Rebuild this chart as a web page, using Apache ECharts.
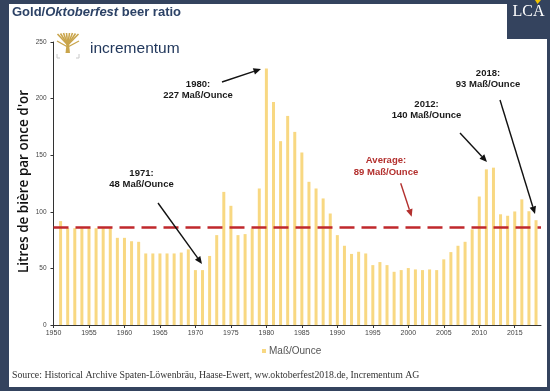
<!DOCTYPE html>
<html>
<head>
<meta charset="utf-8">
<script src="https://cdn.jsdelivr.net/npm/echarts@6/dist/echarts.min.js"></script>
<style>
html,body{margin:0;padding:0;background:#fff;}
#wrap{position:relative;width:550px;height:391px;background:#34435e;overflow:hidden;}
#inner{position:absolute;left:9px;top:4px;width:538px;height:383px;background:#fff;}
#chart{position:absolute;left:0;top:0;width:550px;height:391px;}
</style>
</head>
<body>
<div id="wrap"><div id="inner"></div><div id="chart"></div></div>
<script>
// ---- data ----
const years = [1951,1952,1953,1954,1955,1956,1957,1958,1959,1960,
  1961,1962,1963,1964,1965,1966,1967,1968,1969,1970,
  1971,1972,1973,1974,1975,1976,1977,1978,1979,1980,
  1981,1982,1983,1984,1985,1986,1987,1988,1989,1990,
  1991,1992,1993,1994,1995,1996,1997,1998,1999,2000,
  2001,2002,2003,2004,2005,2006,2007,2008,2009,2010,
  2011,2012,2013,2014,2015,2016,2017,2018];
const ratio = [91.8,85.5,85.5,85.5,85.5,85.5,85.5,85.5,77,77,
  74,73.5,63.2,63.2,63.2,63.2,63.2,64,66.8,48.5,
  48.5,61,79.4,117.6,105.3,79.4,80.3,85.3,120.6,226.5,
  197,162.4,184.7,170.6,152.4,126.5,120.6,111.8,98.5,79.4,
  70,62.8,64.7,63.2,52.9,55.6,52.9,47,48.5,50.3,
  49.1,48.5,49.1,48.5,58,64.4,70,73.5,84.5,113.5,
  137.5,139,97.8,96.5,100.3,111,100.5,92.6];
const averageLine = 86.2;
const seriesName = 'Maß/Ounce';
const yTicks = [0,50,100,150,200,250];
const xTickStart = 1950, xTickStep = 5;

const chart = echarts.init(document.getElementById('chart'), null, {renderer:'canvas'});

function arrow(x1,y1,x2,y2,color){
  const a = Math.atan2(y2-y1,x2-x1), L = 7.5, W = 3.3;
  const bx = x2 - L*Math.cos(a), by = y2 - L*Math.sin(a);
  const px = -Math.sin(a)*W, py = Math.cos(a)*W;
  return [
    {type:'line', shape:{x1:x1,y1:y1,x2:bx,y2:by}, style:{stroke:color,lineWidth:1.4}, z:50},
    {type:'polygon', shape:{points:[[x2,y2],[bx+px,by+py],[bx-px,by-py]]}, style:{fill:color}, z:50}
  ];
}
function note(x,y,text,color){
  return {type:'text', x:x, y:y, z:50, style:{text:text, fill:color||'#1a1a1a', fontSize:9.5, fontWeight:'bold',
    fontFamily:'"Liberation Sans", Arial, sans-serif', align:'center', verticalAlign:'middle', lineHeight:11.5}};
}

const gold = '#c9a54c';
const tree = [
  {type:'polygon', shape:{points:[[65.5,53],[66.5,44],[69,44],[70,53]]}, style:{fill:gold}},
  {type:'polyline', shape:{points:[[67.8,45],[57.5,34]]}, style:{stroke:gold,lineWidth:1.6}},
  {type:'polyline', shape:{points:[[67.8,45],[60.5,33.5]]}, style:{stroke:gold,lineWidth:1.6}},
  {type:'polyline', shape:{points:[[67.8,45],[63.5,33]]}, style:{stroke:gold,lineWidth:1.6}},
  {type:'polyline', shape:{points:[[67.8,45],[66.5,33]]}, style:{stroke:gold,lineWidth:1.6}},
  {type:'polyline', shape:{points:[[67.8,45],[69.5,33]]}, style:{stroke:gold,lineWidth:1.6}},
  {type:'polyline', shape:{points:[[67.8,45],[72.5,33]]}, style:{stroke:gold,lineWidth:1.6}},
  {type:'polyline', shape:{points:[[67.8,45],[75.5,33.5]]}, style:{stroke:gold,lineWidth:1.6}},
  {type:'polyline', shape:{points:[[67.8,45],[78.5,34]]}, style:{stroke:gold,lineWidth:1.6}},
  {type:'polyline', shape:{points:[[67.8,47],[57,41]]}, style:{stroke:gold,lineWidth:1.4}},
  {type:'polyline', shape:{points:[[67.8,47],[79,41]]}, style:{stroke:gold,lineWidth:1.4}},
  {type:'polyline', shape:{points:[[57,54],[57,58],[60,58]]}, style:{stroke:'#c8c8c8',lineWidth:1,fill:null}},
  {type:'polyline', shape:{points:[[79,54],[79,58],[76,58]]}, style:{stroke:'#c8c8c8',lineWidth:1,fill:null}}
];

const graphics = [].concat(
  [
    {type:'text', x:12, y:12, style:{text:'{a|Gold/}{b|Oktoberfest}{a| beer ratio}', verticalAlign:'middle',
      rich:{a:{fontSize:13,fontWeight:'bold',fill:'#2c4266',fontFamily:'"Liberation Sans", Arial, sans-serif'},
            b:{fontSize:13,fontWeight:'bold',fontStyle:'italic',fill:'#2c4266',fontFamily:'"Liberation Sans", Arial, sans-serif'}}}},
    {type:'rect', shape:{x:507,y:0,width:43,height:39}, style:{fill:'#34435e'}, z:60},
    {type:'text', x:528.5, y:12, z:61, style:{text:'LCA', fill:'#ffffff', fontSize:16, fontFamily:'"Liberation Serif", "DejaVu Serif", serif', align:'center', verticalAlign:'middle'}},
    {type:'polygon', z:62, shape:{points:[[535,0],[541,0],[537.5,4]]}, style:{fill:'#f2c400'}},
    {type:'text', x:90, y:48.5, style:{text:'incrementum', fill:'#22385c', fontSize:15.5, fontFamily:'"Liberation Sans", Arial, sans-serif', verticalAlign:'middle'}},
    {type:'text', x:24.5, y:181.5, rotation:Math.PI/2, style:{text:"Litres de bière par once d'or", fill:'#111', fontSize:13.5, fontWeight:600, fontFamily:'"Open Sans", sans-serif', align:'center', verticalAlign:'middle'}},
    {type:'text', x:12, y:375, style:{text:'Source: Historical Archive Spaten-Löwenbräu, Haase-Ewert, ww.oktoberfest2018.de, Incrementum AG', fill:'#333', fontSize:9.8, fontFamily:'"Liberation Serif", "DejaVu Serif", serif', verticalAlign:'middle'}},
    note(141.5,179,'1971:\n48 Maß/Ounce'),
    note(198,90,'1980:\n227 Maß/Ounce'),
    note(426.5,109.7,'2012:\n140 Maß/Ounce'),
    note(488,78.8,'2018:\n93 Maß/Ounce'),
    note(386,166.3,'Average:\n89 Maß/Ounce','#b3302e')
  ],
  tree,
  arrow(158,203,202,264,'#111'),
  arrow(222,82,261,69,'#111'),
  arrow(460,133,487,162,'#111'),
  arrow(500,100,535,214,'#111'),
  arrow(400.7,183.3,411.7,216.7,'#b3302e')
);

chart.setOption({
  animation:false,
  backgroundColor:'transparent',
  grid:{left:53.5, right:9, top:42, bottom:66, containLabel:false},
  legend:{data:[seriesName], left:257, top:341, icon:'rect', itemWidth:4, itemHeight:4, itemGap:4,
    textStyle:{fontSize:10, color:'#555', fontFamily:'"Liberation Sans", Arial, sans-serif', padding:[0,0,0,-2]}},
  xAxis:{type:'value', min:xTickStart, max:2018.7, interval:xTickStep,
    axisLine:{show:true, lineStyle:{color:'#333', width:1}},
    axisTick:{show:true, length:3, lineStyle:{color:'#333'}},
    axisLabel:{fontSize:7, color:'#444', margin:5, showMaxLabel:false, formatter:v=>String(v), fontFamily:'"Liberation Sans", Arial, sans-serif'},
    splitLine:{show:false}},
  yAxis:{type:'value', min:yTicks[0], max:yTicks[yTicks.length-1], interval:50,
    axisLine:{show:true, lineStyle:{color:'#333', width:1}},
    axisTick:{show:true, length:3, lineStyle:{color:'#333'}},
    axisLabel:{fontSize:6.5, color:'#444', margin:7, fontFamily:'"Liberation Sans", Arial, sans-serif'},
    splitLine:{show:false}},
  series:[{
    name:seriesName, type:'bar', barWidth:3,
    itemStyle:{color:'#f8d882'},
    data:years.map((y,i)=>[y, ratio[i]]),
    markLine:{silent:true, symbol:'none', label:{show:false},
      lineStyle:{color:'#c0282c', width:2.6, type:[15,7]},
      data:[{yAxis:averageLine}]}
  }],
  graphic:graphics
});
</script>
</body>
</html>
